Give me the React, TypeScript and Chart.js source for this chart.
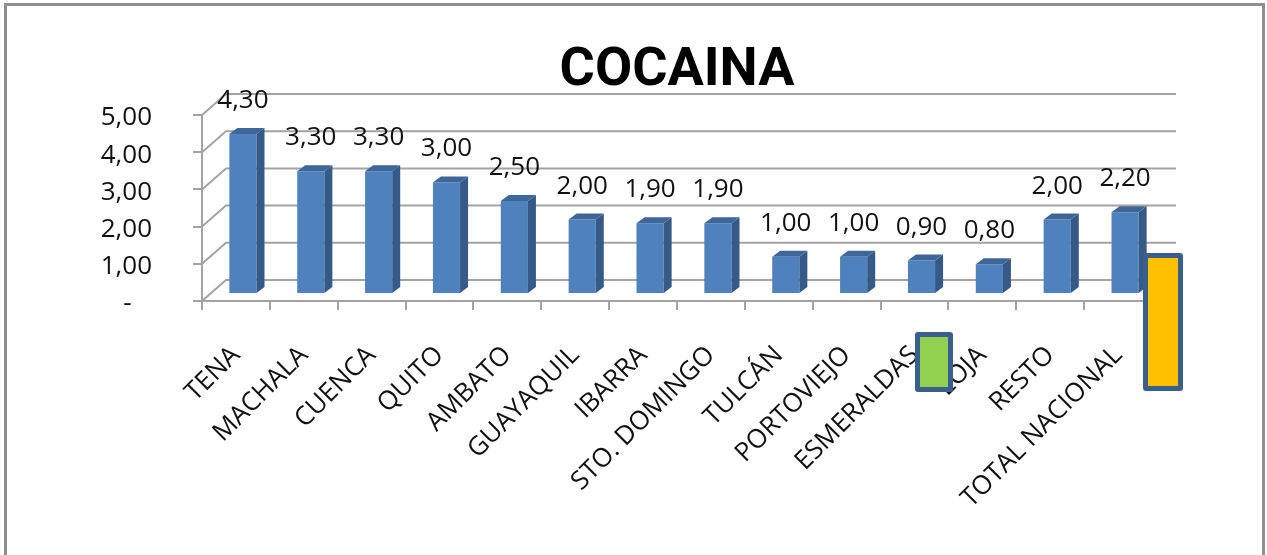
import React, { useEffect, useRef } from "react";
import { Chart, registerables } from "chart.js";

Chart.register(...registerables);

const chartTitle = "COCAINA";
const categories = [
  "TENA",
  "MACHALA",
  "CUENCA",
  "QUITO",
  "AMBATO",
  "GUAYAQUIL",
  "IBARRA",
  "STO. DOMINGO",
  "TULCÁN",
  "PORTOVIEJO",
  "ESMERALDAS",
  "LOJA",
  "RESTO",
  "TOTAL NACIONAL",
];
const values = [4.3, 3.3, 3.3, 3.0, 2.5, 2.0, 1.9, 1.9, 1.0, 1.0, 0.9, 0.8, 2.0, 2.2];
const yTickValues = [0, 1, 2, 3, 4, 5];
const yTickLabels = ["-   ", "1,00", "2,00", "3,00", "4,00", "5,00"];

const FONT = "'Open Sans', 'DejaVu Sans', sans-serif";
const GRID = "#A3A3A3";
const FRONT = "#4F81BD";
const SIDE = "#365A88";
const TOP = "#3E6699";
const WALL = { x: 24, y: -21 };
const SHIFT = { x: 7, y: -7 };
const BD = { x: 8, y: -6 };

const fmt = (v: number) => v.toFixed(2).replace(".", ",");

const threeD = {
  id: "threeD",
  beforeDatasetsDraw(chart: any) {
    const { ctx, chartArea, scales } = chart;
    const ys = scales.y;
    ctx.save();
    ctx.strokeStyle = GRID;
    ctx.lineWidth = 2;
    for (const v of yTickValues) {
      const py = ys.getPixelForValue(v);
      ctx.beginPath();
      ctx.moveTo(chartArea.left, py);
      ctx.lineTo(chartArea.left + WALL.x, py + WALL.y);
      ctx.lineTo(chartArea.right + WALL.x, py + WALL.y);
      ctx.stroke();
    }
    ctx.restore();
    ctx.save();
    ctx.translate(SHIFT.x, SHIFT.y);
  },
  afterDatasetsDraw(chart: any) {
    const { ctx } = chart;
    const meta = chart.getDatasetMeta(0);
    meta.data.forEach((bar: any, i: number) => {
      const { x, y, base, width } = bar.getProps(["x", "y", "base", "width"], true);
      const l = x - width / 2;
      const r = x + width / 2;
      ctx.fillStyle = SIDE;
      ctx.beginPath();
      ctx.moveTo(r, y);
      ctx.lineTo(r + BD.x, y + BD.y);
      ctx.lineTo(r + BD.x, base + BD.y);
      ctx.lineTo(r, base);
      ctx.closePath();
      ctx.fill();
      ctx.fillStyle = TOP;
      ctx.beginPath();
      ctx.moveTo(l, y);
      ctx.lineTo(l + BD.x, y + BD.y);
      ctx.lineTo(r + BD.x, y + BD.y);
      ctx.lineTo(r, y);
      ctx.closePath();
      ctx.fill();
      ctx.fillStyle = "#111";
      ctx.font = `26px ${FONT}`;
      ctx.textAlign = "center";
      ctx.textBaseline = "alphabetic";
      ctx.fillText(fmt(values[i]), x, y - 26);
    });
    ctx.restore();
  },
};

export default function App() {
  const ref = useRef<HTMLCanvasElement | null>(null);

  useEffect(() => {
    if (!ref.current) return;
    const chart = new Chart(ref.current, {
      type: "bar",
      data: {
        labels: categories,
        datasets: [
          {
            data: values,
            backgroundColor: FRONT,
            borderWidth: 0,
            barPercentage: 0.4,
            categoryPercentage: 1.0,
          },
        ],
      },
      options: {
        animation: false,
        responsive: false,
        devicePixelRatio: 1,
        layout: { padding: { left: 0, right: 115, top: 0, bottom: 0 } },
        plugins: {
          legend: { display: false },
          tooltip: { enabled: false },
          title: {
            display: true,
            text: chartTitle,
            fullSize: false,
            color: "#000",
            font: {
              family: "Roboto, 'Open Sans', sans-serif",
              size: 54,
              weight: "bold",
              lineHeight: 1,
            },
            padding: { top: 44, bottom: 17 },
          },
        },
        scales: {
          x: {
            offset: true,
            afterFit: (s: any) => {
              s.height = 254;
            },
            grid: {
              offset: true,
              drawOnChartArea: false,
              color: GRID,
              lineWidth: 2,
              tickLength: 9,
            },
            border: { display: true, color: GRID, width: 2 },
            ticks: {
              autoSkip: false,
              maxRotation: 45,
              minRotation: 45,
              padding: 30,
              color: "#111",
              font: { family: FONT, size: 26 },
            },
          },
          y: {
            min: 0,
            max: 5,
            afterFit: (s: any) => {
              s.width = 202;
            },
            grid: {
              drawOnChartArea: false,
              color: GRID,
              lineWidth: 2,
              tickLength: 9,
            },
            border: { display: true, color: GRID, width: 2 },
            ticks: {
              stepSize: 1,
              padding: 41,
              labelOffset: 3,
              color: "#111",
              font: { family: FONT, size: 26 },
              callback: (v: any) => yTickLabels[yTickValues.indexOf(Number(v))],
            },
          },
        },
      },
      plugins: [threeD],
    });
    return () => chart.destroy();
  }, []);

  return (
    <div
      style={{
        position: "fixed",
        left: 0,
        top: 0,
        width: 1267,
        height: 555,
        overflow: "hidden",
        background: "#fff",
      }}
    >
      <div
        style={{
          position: "absolute",
          left: 4,
          top: 3,
          width: 1261,
          height: 620,
          boxSizing: "border-box",
          border: "3px solid #8F8F8F",
        }}
      />
      <canvas
        ref={ref}
        width={1267}
        height={555}
        style={{ position: "absolute", left: 0, top: 0, display: "block" }}
      />
      <div
        style={{
          position: "absolute",
          left: 915,
          top: 332,
          width: 38,
          height: 60,
          boxSizing: "border-box",
          border: "5px solid #3A5F8D",
          borderRadius: 3,
          background: "#92D050",
        }}
      />
      <div
        style={{
          position: "absolute",
          left: 1143,
          top: 253,
          width: 40,
          height: 138,
          boxSizing: "border-box",
          border: "5px solid #3A5F8D",
          borderRadius: 3,
          background: "#FFC000",
        }}
      />
    </div>
  );
}
